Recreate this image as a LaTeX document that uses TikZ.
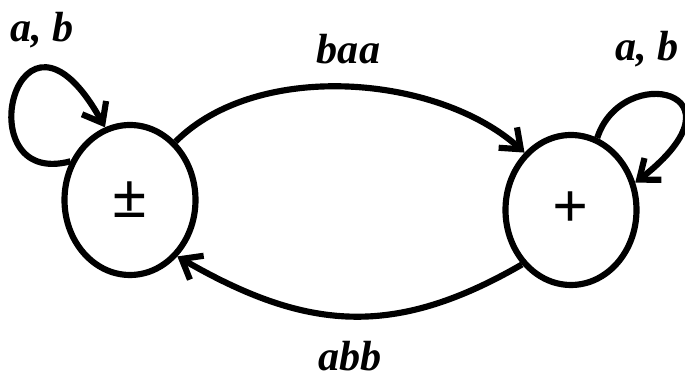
\documentclass[tikz,border=0pt]{standalone}
\usepackage{fontspec}
\setmainfont{Liberation Serif}
\usetikzlibrary{arrows.meta,shapes.geometric}

\begin{document}
\begin{tikzpicture}[
  state/.style={draw,ellipse,line width=3.5pt,minimum width=2.62cm,minimum height=3cm,
    inner sep=0pt,font=\fontsize{36}{40}\selectfont\bfseries},
  trans/.style={line width=3.5pt,-{Straight Barb[length=3.5mm,width=5.5mm]}},
  lab/.style={inner sep=0pt,font=\fontsize{24}{28}\selectfont\bfseries\itshape}]
  \useasboundingbox (0,0) rectangle (13.7,7.6);

  \node[state] (start) at (2.6,3.6) {±};
  \node[state] (final) at (11.42,3.4) {+};

  % loops on both states
  \draw[trans] (start.147) .. controls +(195:2.2) and +(119:3.6) .. (start.109)
    node[lab,pos=0.72,above=0.38cm] (loopA) {a, b};
  \draw[trans] (final.70) .. controls +(72:1.6) and +(38:3) .. (final.23)
    node[lab,pos=0.35,above=0.5cm] (loopB) {a, b};

  % the two arcs between the states
  \draw[trans] (start.52) to[out=45,in=138,looseness=0.85]
    node[lab,midway,above=0.4cm] (top) {baa} (final.129);
  \draw[trans] (final.228) to[out=210,in=-30,looseness=1.1]
    node[lab,midway,below=0.45cm] (bottom) {abb} (start.310);
\end{tikzpicture}
\end{document}
